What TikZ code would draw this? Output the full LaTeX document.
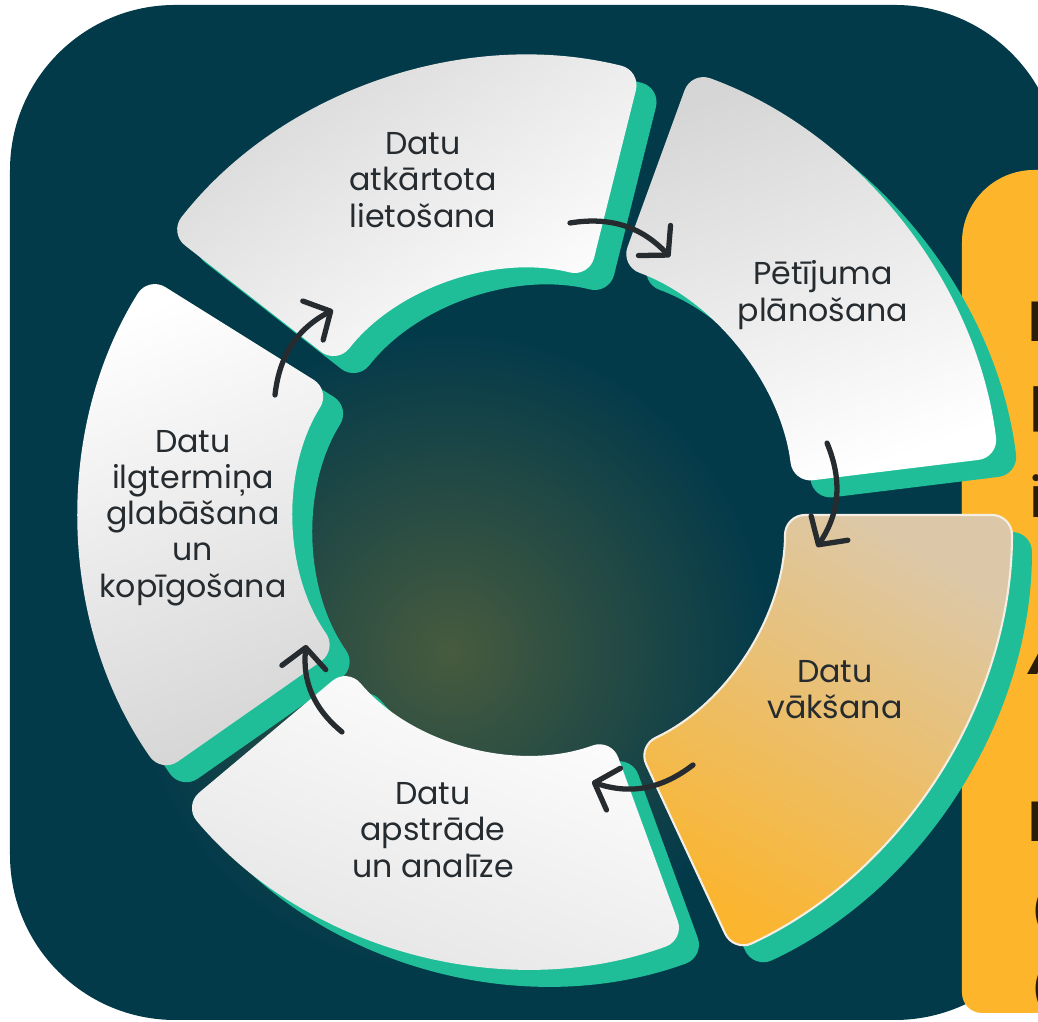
\documentclass[tikz,border=0pt]{standalone}
\usepackage{fontspec}
\setmainfont{Poppins}
\usetikzlibrary{arrows.meta}
\definecolor{bgteal}{HTML}{033A4A}
\definecolor{glow}{HTML}{475B3E}
\definecolor{ringgreen}{HTML}{20BE98}
\definecolor{boxyellow}{HTML}{FDB62C}
\definecolor{tilegray}{HTML}{D6D6D6}
\definecolor{vorange}{HTML}{FBB52E}
\definecolor{vbeige}{HTML}{DCC8A8}
\definecolor{ink}{HTML}{262B2F}
\definecolor{inkdark}{HTML}{2A1E08}
\newcommand{\sector}[4]{(#1:#4) arc[start angle=#1,end angle=#2,radius=#4] -- (#2:#3) arc[start angle=#2,end angle=#1,radius=#3] -- cycle}
\tikzset{
  tile/.style={rounded corners=0.2cm},
  flow/.style={draw=ink, line width=1.5pt, line cap=round, -{Straight Barb[length=2mm,width=4.4mm,round]}},
  tiletext/.style={text=ink, align=center, font=\fontsize{9}{10.3}\selectfont},
  cut/.style={anchor=base west, inner sep=0pt, text=inkdark},
}
\begin{document}
\begin{tikzpicture}[x=0.01cm,y=0.01cm]
\useasboundingbox (0,0) rectangle (1038,1022);
\clip (0,0) rectangle (1038,1022);
\fill[bgteal, rounded corners=1.65cm] (10,2) rectangle (1060,1017);
\shade[inner color=glow, outer color=bgteal] (450,370) circle (320);
\fill[boxyellow, rounded corners=0.72cm] (962,300) rectangle (1200,852);
\fill[boxyellow, rounded corners=0.2cm] (962,9) rectangle (1200,600);
\begin{scope}[shift={(550,490)}]
\foreach \s/\e/\r/\R in {76/142/245/458, 7/70/265/472, -65/0/255/482, -140/-70/238/452, 148/215/235/450}
  \fill[ringgreen, tile] \sector{\s}{\e}{\r}{\R};
\end{scope}
\begin{scope}[shift={(530,507)}]
\shade[tile, top color=tilegray, bottom color=white, shading angle=35] \sector{76}{142}{245}{458};
\shade[tile, top color=tilegray, bottom color=white, shading angle=20] \sector{7}{70}{265}{472};
\shade[tile, top color=vbeige, bottom color=vorange, shading angle=-30, draw=white!70!vbeige, line width=0.6pt] \sector{-65}{0}{255}{482};
\shade[tile, top color=white, bottom color=tilegray!70, shading angle=-20] \sector{-140}{-70}{238}{452};
\shade[tile, top color=white, bottom color=tilegray, shading angle=20] \sector{148}{215}{235}{450};
\end{scope}
\node[tiletext] (tA) at (423,842) {Datu\\atkārtota\\lietošana};
\node[tiletext] (tP) at (823,727) {Pētījuma\\plānošana};
\node[tiletext] (tV) at (835,332) {Datu\\vākšana};
\node[tiletext] (tAp) at (433,192) {Datu\\apstrāde\\un analīze};
\node[tiletext] (tIl) at (193,504) {Datu\\ilgtermiņa\\glabāšana\\un\\kopīgošana};
\foreach \n/\a/\b in {1/570/799, 2/827/579, 3/693/257, 4/342/290, 5/275/627}
  \coordinate (s\n) at (\a,\b);
\foreach \n/\a/\b in {1/670/765, 2/817/475, 3/592/240, 4/306/377, 5/333/712}
  \coordinate (e\n) at (\a,\b);
\foreach \n in {1,...,5}
  \draw[flow] (s\n) to[bend left=28] (e\n);
\node[cut, font=\bfseries\fontsize{16}{16}\selectfont] (c1) at (1028,680) {D};
\node[cut, font=\fontsize{16}{16}\selectfont] (c2) at (1029,604) {p};
\node[cut, font=\fontsize{16}{16}\selectfont] (c3) at (1029,504) {i};
\node[cut, font=\bfseries\itshape\fontsize{16}{16}\selectfont] (c4) at (1029,347) {A};
\node[cut, font=\bfseries\fontsize{16}{16}\selectfont] (c5) at (1028,180) {D};
\node[cut, font=\fontsize{12}{12}\selectfont] (c6) at (1031,95) {(};
\node[cut, font=\fontsize{12}{12}\selectfont] (c7) at (1031,17) {(};
\end{tikzpicture}
\end{document}
